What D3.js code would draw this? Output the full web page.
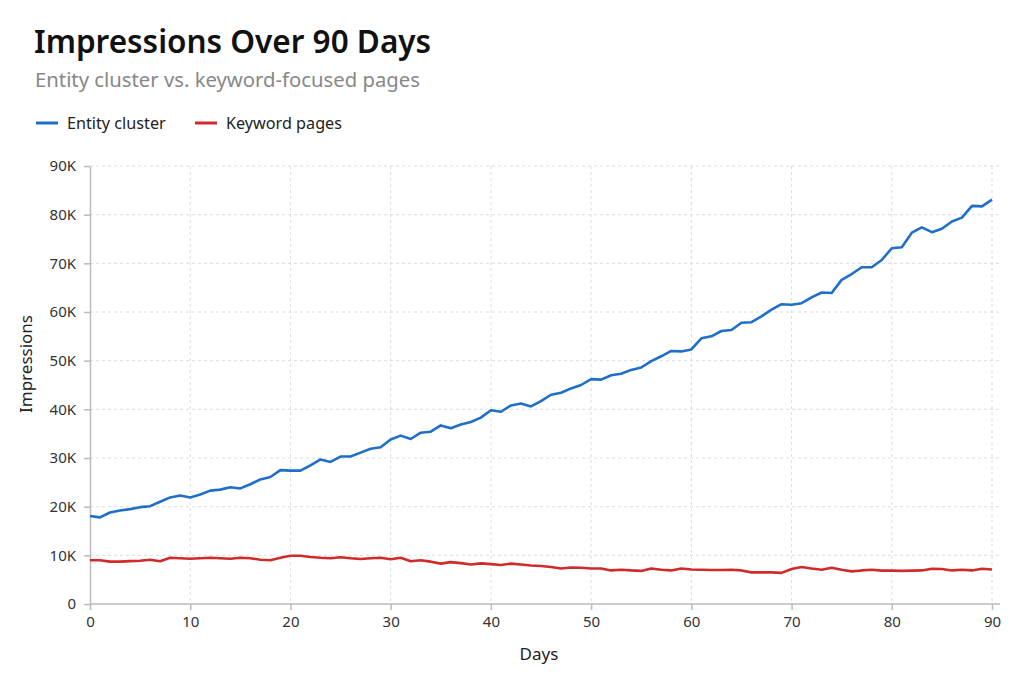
<!DOCTYPE html>
<html>
<head>
<meta charset="utf-8">
<script src="https://cdn.jsdelivr.net/npm/d3@7"></script>
<style>
  body { margin: 0; background: #fff; }
  text { font-family: "Noto Sans", "Open Sans", sans-serif; }
</style>
</head>
<body>
<div id="chart"></div>
<script>
//data (impressions in thousands, one per day)
var days = d3.range(0, 91);
var entity = [18.1, 17.8, 18.8, 19.2, 19.5, 19.9, 20.1, 21.0, 21.9, 22.3,
  21.9, 22.5, 23.3, 23.5, 24.0, 23.75, 24.6, 25.6, 26.1, 27.5,
  27.4, 27.4, 28.5, 29.7, 29.2, 30.3, 30.3, 31.1, 31.9, 32.2,
  33.8, 34.6, 33.9, 35.2, 35.4, 36.7, 36.1, 36.9, 37.4, 38.3,
  39.8, 39.5, 40.8, 41.2, 40.6, 41.7, 43.0, 43.4, 44.3, 45.0,
  46.2, 46.1, 47.0, 47.3, 48.1, 48.6, 49.9, 50.9, 52.0, 51.9,
  52.3, 54.6, 55.0, 56.1, 56.3, 57.8, 57.9, 59.1, 60.5, 61.6,
  61.5, 61.8, 63.0, 64.0, 63.9, 66.6, 67.8, 69.2, 69.2, 70.7,
  73.1, 73.3, 76.3, 77.4, 76.4, 77.1, 78.6, 79.4, 81.8, 81.7,
  83.1];
var keyword = [9.0, 9.0, 8.7, 8.7, 8.8, 8.9, 9.1, 8.8, 9.5, 9.4,
  9.3, 9.4, 9.5, 9.4, 9.3, 9.5, 9.4, 9.1, 9.0, 9.5,
  9.9, 9.9, 9.65, 9.5, 9.4, 9.6, 9.4, 9.25, 9.4, 9.5,
  9.2, 9.5, 8.8, 9.0, 8.7, 8.3, 8.6, 8.4, 8.1, 8.35,
  8.2, 8.0, 8.3, 8.1, 7.9, 7.8, 7.6, 7.3, 7.5, 7.45,
  7.3, 7.3, 6.9, 7.05, 6.9, 6.8, 7.3, 7.05, 6.9, 7.3,
  7.1, 7.05, 7.0, 7.0, 7.05, 6.9, 6.5, 6.5, 6.5, 6.4,
  7.2, 7.6, 7.3, 7.05, 7.45, 7.05, 6.7, 6.9, 7.05, 6.85,
  6.85, 6.8, 6.85, 6.9, 7.25, 7.2, 6.9, 7.05, 6.9, 7.25,
  7.1];
var xTicks = [0, 10, 20, 30, 40, 50, 60, 70, 80, 90];
var yTicks = [0, 10, 20, 30, 40, 50, 60, 70, 80, 90];
var seriesNames = ["Entity cluster", "Keyword pages"];
var seriesColors = ["#1f6fc9", "#d12a2a"];

//page and plot sizes
var W = 1024, H = 683;
var margin = {top: 166, right: 32, bottom: 79, left: 90};
var width = 902, height = H - margin.top - margin.bottom;

var svg = d3.select("#chart")
  .append("svg")
    .attr("width", W)
    .attr("height", H);

//title block
svg.append("text")
  .attr("x", 34).attr("y", 53)
  .style("font-size", "31.5px")
  .style("font-weight", 600)
  .style("fill", "#111")
  .text("Impressions Over 90 Days");

svg.append("text")
  .attr("x", 35).attr("y", 87)
  .style("font-size", "20.3px")
  .style("fill", "#888")
  .text("Entity cluster vs. keyword-focused pages");

//legend
var legendX = [36, 195];
seriesNames.forEach(function(name, i) {
  svg.append("line")
    .attr("x1", legendX[i]).attr("x2", legendX[i] + 22)
    .attr("y1", 123).attr("y2", 123)
    .style("stroke", seriesColors[i])
    .style("stroke-width", 3);
  svg.append("text")
    .attr("x", legendX[i] + 31).attr("y", 129)
    .style("font-size", "16.2px")
    .style("fill", "#222")
    .text(name);
});

var g = svg.append("g")
  .attr("transform", "translate(" + margin.left + "," + margin.top + ")");

//scales
var x = d3.scaleLinear().domain([0, 90]).range([0, width]);
var y = d3.scaleLinear().domain([0, 90]).range([height, 0]);
var plotRight = width + 8;

//grid
g.selectAll(".hgrid")
  .data(yTicks.slice(1))
  .enter().append("line")
  .attr("x1", 0).attr("x2", plotRight)
  .attr("y1", function(d) { return y(d); })
  .attr("y2", function(d) { return y(d); })
  .style("stroke", "#ddd")
  .style("stroke-dasharray", "3,3");

g.selectAll(".vgrid")
  .data(xTicks.slice(1))
  .enter().append("line")
  .attr("x1", function(d) { return x(d); })
  .attr("x2", function(d) { return x(d); })
  .attr("y1", 0).attr("y2", height)
  .style("stroke", "#ddd")
  .style("stroke-dasharray", "3,3");

//axes
var xAxis = g.append("g")
  .attr("transform", "translate(0," + height + ")")
  .call(d3.axisBottom(x).tickValues(xTicks).tickSize(6).tickPadding(6).tickSizeOuter(0));
xAxis.select(".domain").attr("d", "M0,0H" + plotRight);

var yAxis = g.append("g")
  .call(d3.axisLeft(y).tickValues(yTicks).tickSize(6).tickPadding(8).tickSizeOuter(0)
    .tickFormat(function(d) { return d === 0 ? "0" : d + "K"; }));

[xAxis, yAxis].forEach(function(a) {
  a.select(".domain").style("stroke", "#bbb").style("stroke-width", 1.5);
  a.selectAll(".tick line").style("stroke", "#bbb").style("stroke-width", 1.5);
  a.selectAll(".tick text")
    .style("font-size", "15px")
    .style("fill", "#333")
    .style("font-family", "'Noto Sans', 'Open Sans', sans-serif");
});

//axis titles
svg.append("text")
  .attr("x", margin.left + width / 2 - 2)
  .attr("y", 660)
  .style("text-anchor", "middle")
  .style("font-size", "17px")
  .style("fill", "#222")
  .text("Days");

svg.append("text")
  .attr("transform", "translate(32,364) rotate(-90)")
  .style("text-anchor", "middle")
  .style("font-size", "17px")
  .style("fill", "#222")
  .text("Impressions");

//lines
var line = d3.line()
  .x(function(d, i) { return x(days[i]); })
  .y(function(d) { return y(d); });

[entity, keyword].forEach(function(series, i) {
  g.append("path")
    .datum(series)
    .attr("d", line)
    .style("fill", "none")
    .style("stroke", seriesColors[i])
    .style("stroke-width", 2.6)
    .style("stroke-linejoin", "round");
});
</script>
</body>
</html>
